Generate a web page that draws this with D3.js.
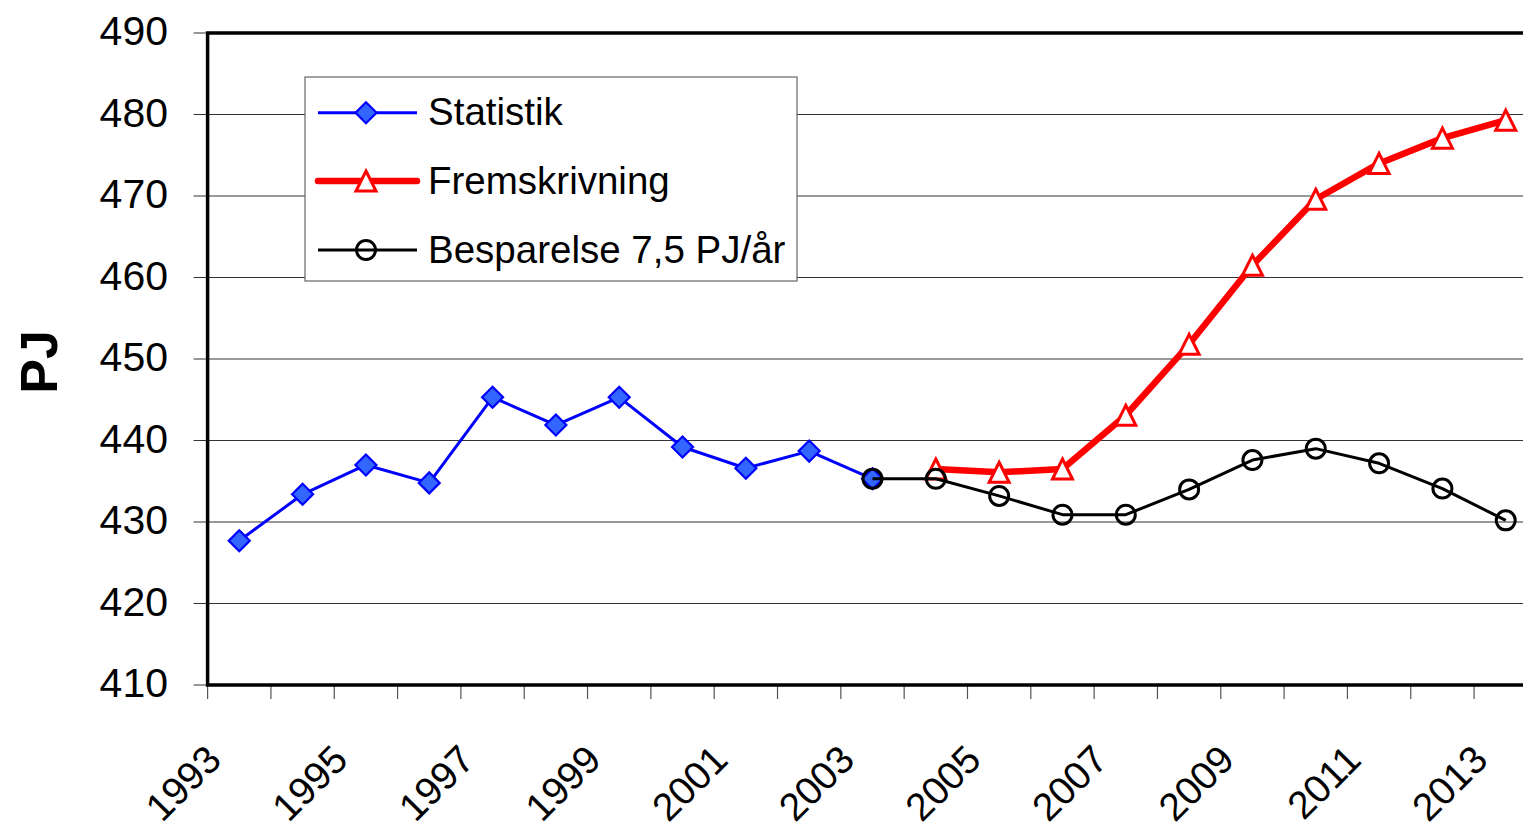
<!DOCTYPE html>
<html>
<head>
<meta charset="utf-8">
<script src="https://cdn.jsdelivr.net/npm/d3@7"></script>
<style>
	body { margin: 0; background: #fff; }
	svg { display: block; font-family: "Liberation Sans", Arial, sans-serif; }
</style>
</head>
<body>
<script>
/* Data */

var YEARS = ["1993","1994","1995","1996","1997","1998","1999","2000","2001","2002","2003",
             "2004","2005","2006","2007","2008","2009","2010","2011","2012","2013"];

var STATISTIK     = [427.7, 433.4, 437.0, 434.8, 445.3, 441.9, 445.3, 439.2, 436.6, 438.7, 435.3,
                     null, null, null, null, null, null, null, null, null, null];
var FREMSKRIVNING = [null, null, null, null, null, null, null, null, null, null, null,
                     436.5, 436.1, 436.5, 443.1, 451.8, 461.5, 469.6, 474.0, 477.1, 479.3];
var BESPARELSE    = [null, null, null, null, null, null, null, null, null, null, 435.3,
                     435.3, 433.2, 430.9, 430.9, 434.0, 437.6, 439.0, 437.2, 434.1, 430.2];

var Y_TICKS      = [410, 420, 430, 440, 450, 460, 470, 480, 490];
var X_LABELS     = ["1993","1995","1997","1999","2001","2003","2005","2007","2009","2011","2013"];
var SERIES_NAMES = ["Statistik", "Fremskrivning", "Besparelse 7,5 PJ/år"];

/* Measures */

var W = 1523,
    H = 832;

var PLOT = { left: 207.6, right: 1537.4, top: 33, bottom: 685 };

var LEGEND_BOX    = { x: 305, y: 77, width: 492, height: 204 },
    LEGEND_ROWS   = [112.7, 181, 250],
    LEGEND_LINE   = { x1: 318, x2: 417, marker: 366 },
    LEGEND_TEXT_X = 428;

/* Styles */

var STYLES = [
	{ values: STATISTIK,     stroke: "#0000ff", width: 3,   marker: "diamond"  },
	{ values: FREMSKRIVNING, stroke: "#ff0000", width: 6.5, marker: "triangle" },
	{ values: BESPARELSE,    stroke: "#000000", width: 3,   marker: "circle"   }
];

var svg = d3.select("body").append("svg")
	.attr("width", W)
	.attr("height", H);

var x = d3.scaleBand().domain(YEARS).range([PLOT.left, PLOT.right]);
var y = d3.scaleLinear().domain([410, 490]).range([PLOT.bottom, PLOT.top]);

function cx(year) { return x(year) + x.bandwidth() / 2; }

/* Grid */

svg.append("g").selectAll("line")
	.data(Y_TICKS)
	.enter().append("line")
	.attr("x1", PLOT.left - 14)
	.attr("x2", W)
	.attr("y1", function(d) { return y(d); })
	.attr("y2", function(d) { return y(d); })
	.attr("stroke", "#333")
	.attr("stroke-width", 1.2);

/* Legend box, drawn before the lines so it hides the grid */

svg.append("rect")
	.attr("x", LEGEND_BOX.x)
	.attr("y", LEGEND_BOX.y)
	.attr("width", LEGEND_BOX.width)
	.attr("height", LEGEND_BOX.height)
	.attr("fill", "#fff")
	.attr("stroke", "#666")
	.attr("stroke-width", 1.2);

/* X ticks */

svg.append("g").selectAll("line")
	.data(YEARS.concat(["end"]))
	.enter().append("line")
	.attr("x1", function(d, i) { return PLOT.left + i * x.bandwidth(); })
	.attr("x2", function(d, i) { return PLOT.left + i * x.bandwidth(); })
	.attr("y1", PLOT.bottom)
	.attr("y2", PLOT.bottom + 14)
	.attr("stroke", "#555")
	.attr("stroke-width", 1.2);

/* Frame */

svg.append("path")
	.attr("d", "M" + W + "," + PLOT.top + "H" + PLOT.left + "V" + PLOT.bottom + "H" + W)
	.attr("fill", "none")
	.attr("stroke", "#000")
	.attr("stroke-width", 3.5);

/* Axis labels */

svg.append("g").selectAll("text")
	.data(Y_TICKS)
	.enter().append("text")
	.attr("x", 168)
	.attr("y", function(d) { return y(d) + 12; })
	.attr("text-anchor", "end")
	.attr("font-size", 41)
	.text(String);

svg.append("g").selectAll("text")
	.data(X_LABELS)
	.enter().append("text")
	.attr("transform", function(d) { return "translate(" + (cx(d) - 16) + " 762) rotate(-45)"; })
	.attr("text-anchor", "end")
	.attr("font-size", 39)
	.text(String);

svg.append("text")
	.attr("transform", "translate(57 362) rotate(-90)")
	.attr("text-anchor", "middle")
	.attr("font-size", 52)
	.attr("font-weight", "bold")
	.text("PJ");

/* Markers */

function drawMarker(sel, kind, color) {
	if (kind === "diamond") {
		sel.append("path")
			.attr("d", "M0,-10.5L10.5,0L0,10.5L-10.5,0Z")
			.attr("fill", "#3366ff")
			.attr("stroke", color)
			.attr("stroke-width", 2.2);
	} else if (kind === "triangle") {
		sel.append("path")
			.attr("d", "M0,-10L10,10L-10,10Z")
			.attr("fill", "#fff")
			.attr("stroke", color)
			.attr("stroke-width", 3)
			.attr("stroke-linejoin", "miter");
	} else {
		sel.append("circle")
			.attr("r", 9.5)
			.attr("fill", "none")
			.attr("stroke", color)
			.attr("stroke-width", 3);
	}
}

/* Series */

var line = d3.line()
	.defined(function(d) { return d.v != null; })
	.x(function(d) { return cx(d.year); })
	.y(function(d) { return y(d.v); });

STYLES.forEach(function(s) {
	var pts = YEARS.map(function(year, i) { return { year: year, v: s.values[i] }; });

	svg.append("path")
		.datum(pts)
		.attr("d", line)
		.attr("fill", "none")
		.attr("stroke", s.stroke)
		.attr("stroke-width", s.width)
		.attr("stroke-linejoin", "round");

	svg.append("g").selectAll("g")
		.data(pts.filter(function(d) { return d.v != null; }))
		.enter().append("g")
		.attr("transform", function(d) { return "translate(" + cx(d.year) + "," + y(d.v) + ")"; })
		.each(function() { drawMarker(d3.select(this), s.marker, s.stroke); });
});

/* Legend entries */

var legend = svg.append("g").attr("id", "legend");

STYLES.forEach(function(s, i) {
	var row = LEGEND_ROWS[i];

	legend.append("line")
		.attr("x1", LEGEND_LINE.x1)
		.attr("x2", LEGEND_LINE.x2)
		.attr("y1", row)
		.attr("y2", row)
		.attr("stroke", s.stroke)
		.attr("stroke-width", s.width)
		.attr("stroke-linecap", s.width > 4 ? "round" : "butt");

	drawMarker(legend.append("g").attr("transform", "translate(" + LEGEND_LINE.marker + "," + row + ")"), s.marker, s.stroke);

	legend.append("text")
		.attr("x", LEGEND_TEXT_X)
		.attr("y", row + 12.5)
		.attr("font-size", 38.5)
		.text(SERIES_NAMES[i]);
});
</script>
</body>
</html>
